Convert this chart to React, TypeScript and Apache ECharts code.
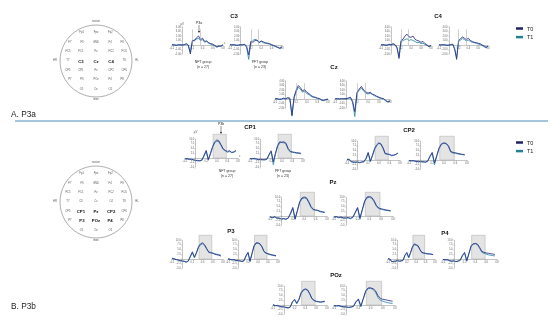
import React, { useEffect, useRef } from "react";
import * as echarts from "echarts";

// ---------- data ----------
const TIMES = [-0.2, -0.16, -0.12, -0.08, -0.04, 0, 0.04, 0.08, 0.12, 0.16, 0.2, 0.24, 0.28, 0.32, 0.36, 0.4, 0.44, 0.48, 0.52, 0.56, 0.6, 0.64, 0.68, 0.72, 0.76, 0.8];

const X_TICKS = [-0.2, 0, 0.2, 0.4, 0.6, 0.8];
const P3A_Y_TICKS = [-2, -1, 0, 1, 2, 3, 4];
const P3B_Y_TICKS = [-5, -2.5, 0, 2.5, 5, 7.5, 10];
const P3A_WINDOW = [0.2, 0.35];
const P3B_WINDOW = [0.33, 0.58];

const GROUPS = ["NFT group", "PFT group"];
const GROUP_N = ["(n = 27)", "(n = 23)"];
const LEGEND_NAMES = ["T0", "T1"];

// P3a (µV)
const c3NftT0 = [0.1, 0.0, -0.1, 0.1, 0.0, 0.0, 0.1, 0.3, 0.0, -2.0, 1.0, 0.9, 1.6, 2.0, 1.2, 1.5, 0.8, 0.9, 0.5, 0.3, 0.2, -0.1, -0.4, -0.2, -0.3, 0.1];
const c3NftT1 = [0.0, 0.1, 0.0, -0.1, 0.1, 0.0, 0.0, 0.2, -0.2, -1.6, 0.8, 1.2, 1.3, 1.5, 1.0, 1.2, 0.6, 0.8, 0.4, 0.2, 0.0, -0.2, -0.5, -0.3, -0.2, 0.0];
const c3PftT0 = [0.1, 0.0, 0.1, -0.1, 0.0, 0.1, 0.0, 0.2, -0.3, -2.2, 0.8, 0.6, 1.0, 1.1, 0.6, 0.9, 0.7, 0.5, 0.4, 0.3, 0.1, -0.1, -0.3, -0.5, -0.7, -0.4];
const c3PftT1 = [0.0, 0.1, 0.0, 0.0, -0.1, 0.0, 0.1, 0.1, -0.6, -3.2, 0.5, 1.0, 1.3, 1.0, 0.5, 0.8, 0.5, 0.4, 0.3, 0.2, 0.0, -0.2, -0.4, -0.6, -0.8, -0.5];
const c4NftT0 = [0.0, 0.1, 0.0, -0.1, 0.2, 0.0, 0.3, 0.1, -0.5, -3.0, 1.0, 1.3, 2.0, 2.4, 1.8, 1.7, 2.0, 1.3, 1.0, 0.9, 0.6, 0.8, 0.3, 0.0, -0.3, -0.1];
const c4NftT1 = [0.1, 0.0, 0.0, 0.0, 0.1, 0.1, 0.2, 0.0, -0.7, -2.6, 0.7, 1.0, 1.2, 1.4, 1.0, 1.2, 1.0, 0.8, 0.5, 0.6, 0.3, 0.4, 0.1, -0.1, -0.4, -0.2];
const c4PftT0 = [0.1, 0.0, 0.1, 0.0, -0.1, 0.0, 0.1, 0.2, -0.8, -3.2, 1.0, 1.4, 1.8, 1.5, 1.2, 1.5, 1.0, 0.8, 0.6, 0.5, 0.4, 0.3, 0.0, -0.2, -0.5, -0.3];
const c4PftT1 = [0.0, 0.0, 0.0, 0.1, 0.0, -0.1, 0.0, 0.1, -1.0, -2.8, 0.8, 1.1, 1.5, 1.2, 0.9, 1.1, 0.8, 0.6, 0.5, 0.4, 0.2, 0.1, -0.1, -0.4, -0.6, -0.3];
const czNftT0 = [0.0, 0.1, -0.1, 0.0, 0.2, 0.0, 0.3, 0.2, -3.6, 0.5, 2.0, 3.0, 2.5, 1.8, 2.1, 1.5, 1.2, 0.8, 0.5, 0.4, 0.2, 0.1, -0.2, -0.3, -0.1, 0.0];
const czNftT1 = [0.1, 0.0, 0.0, -0.1, 0.1, 0.1, 0.2, 0.0, -3.8, 0.2, 1.6, 2.6, 2.2, 1.5, 1.8, 1.2, 1.0, 0.6, 0.4, 0.3, 0.1, 0.0, -0.3, -0.4, -0.2, -0.1];
const czPftT0 = [0.0, 0.1, 0.0, 0.1, 0.0, 0.1, 0.2, 0.4, -0.5, -2.8, 1.5, 2.2, 2.8, 2.0, 1.6, 1.3, 1.5, 1.1, 0.9, 0.6, 0.4, 0.2, 0.1, -0.3, -0.6, -0.4];
const czPftT1 = [0.1, 0.0, 0.0, 0.0, 0.1, 0.0, 0.1, 0.3, -0.8, -3.9, 1.2, 2.0, 2.4, 1.8, 1.3, 1.1, 1.3, 1.0, 0.7, 0.5, 0.3, 0.1, 0.0, -0.4, -0.7, -0.5];

// P3b (µV)
const cp1NftT0 = [-0.5, -0.3, -0.8, -0.6, -1.0, -1.2, -1.5, -1.4, -1.0, 1.5, 4.0, -0.8, 2.5, 6.0, 8.5, 9.5, 9.0, 7.0, 4.8, 4.0, 3.5, 3.8, 3.0, 3.2, 4.0, null];
const cp1NftT1 = [-0.2, -0.6, -0.4, -0.9, -0.8, -1.5, -1.2, -1.6, -1.2, 1.0, 3.5, -1.2, 2.0, 5.5, 8.0, 8.8, 8.5, 6.5, 4.5, 3.8, 3.0, 3.5, 2.8, 3.0, 3.6, null];
const cp1PftT0 = [-0.3, -0.5, -0.2, -0.6, -0.8, -0.7, -1.0, -0.8, -0.5, 2.0, 3.8, -2.0, 2.5, 6.5, 8.5, 8.3, 8.5, 7.8, 5.0, 3.5, 3.2, 3.0, 2.8, 2.7, 2.5, null];
const cp1PftT1 = [-0.5, -0.2, -0.6, -0.4, -0.9, -1.0, -0.8, -1.1, -0.7, 1.5, 3.2, -3.5, 2.0, 6.0, 8.0, 8.2, 8.0, 7.2, 4.5, 3.2, 3.0, 2.8, 2.5, 2.4, 2.2, null];
const cp2NftT0 = [0.5, 0.2, -0.8, -1.0, -1.2, -1.0, -1.3, -1.0, -0.8, 1.0, 4.0, -0.5, 2.5, 6.0, 8.0, 9.0, 8.5, 6.5, 3.5, 3.2, 3.0, 2.5, 2.6, 3.0, 3.5, null];
const cp2NftT1 = [0.2, 0.5, -1.0, -1.3, -1.0, -1.2, -1.5, -1.2, -1.0, 0.5, 3.5, -1.0, 2.0, 5.5, 7.5, 8.8, 8.2, 6.0, 3.2, 3.0, 2.8, 2.2, 2.4, 2.8, 3.8, null];
const cp2PftT0 = [-0.2, -0.5, -0.3, -0.8, -0.6, -1.0, -0.8, -1.2, -0.6, 2.0, 4.0, -1.5, 2.5, 6.5, 8.5, 9.0, 8.8, 7.5, 4.5, 4.0, 3.8, 3.5, 3.2, 3.0, 2.8, null];
const cp2PftT1 = [-0.5, -0.3, -0.6, -0.5, -1.0, -0.8, -1.2, -1.0, -0.9, 1.5, 3.5, -2.5, 2.0, 6.0, 8.2, 8.8, 8.5, 7.0, 4.2, 3.6, 3.5, 3.2, 3.0, 2.8, 2.6, null];
const pzNftT0 = [-0.5, -0.8, -0.4, -1.0, -1.2, -1.5, -1.3, -1.8, -1.0, 1.5, 4.5, -1.5, 3.0, 7.5, 9.5, 10.0, 9.6, 7.5, 5.0, 3.5, 3.2, 3.0, 2.5, 2.2, 2.0, null];
const pzNftT1 = [-0.3, -1.0, -0.6, -1.2, -1.0, -1.8, -1.5, -1.6, -1.2, 1.0, 4.0, -1.8, 2.5, 7.0, 9.0, 9.5, 9.2, 7.0, 4.5, 3.2, 3.0, 2.8, 2.2, 2.0, 1.8, null];
const pzPftT0 = [-0.5, -0.3, -0.7, -0.5, -0.9, -1.0, -0.8, -1.2, -0.6, 2.0, 4.5, -1.0, 3.5, 8.0, 10.0, 10.2, 9.8, 8.0, 5.5, 4.2, 3.8, 3.5, 3.2, 3.0, 2.8, null];
const pzPftT1 = [-0.7, -0.5, -0.9, -0.7, -1.1, -1.2, -1.0, -1.4, -0.8, 1.5, 4.0, -1.8, 3.0, 7.5, 9.5, 9.8, 9.3, 7.5, 5.0, 3.8, 3.5, 3.2, 3.0, 2.8, 2.5, null];
const p3NftT0 = [0.3, 0.0, -0.3, -0.5, -0.8, -1.0, -1.2, -1.5, -1.0, 1.5, 3.8, 1.0, 3.5, 6.5, 8.0, 8.5, 7.5, 5.5, 3.5, 3.2, 3.0, 2.5, 2.2, 2.0, 1.5, null];
const p3NftT1 = [0.5, 0.2, -0.2, -0.6, -0.9, -1.2, -1.3, -1.7, -1.2, 1.2, 3.2, 0.6, 3.0, 6.0, 7.5, 8.0, 7.0, 5.2, 3.8, 3.5, 3.2, 2.8, 2.5, 2.3, 2.0, null];
const p3PftT0 = [0.0, -0.2, -0.5, -0.3, -0.7, -0.8, -1.0, -1.2, -0.8, 1.8, 3.5, -1.0, 3.0, 7.0, 8.5, 8.5, 8.0, 6.5, 4.0, 3.2, 2.8, 2.5, 2.2, 2.0, 1.8, null];
const p3PftT1 = [0.2, -0.1, -0.4, -0.5, -0.8, -1.0, -1.1, -1.4, -1.0, 1.5, 3.2, -1.5, 2.6, 6.5, 8.2, 8.3, 7.8, 6.2, 3.8, 3.0, 2.6, 2.2, 2.0, 1.8, 1.5, null];
const p4NftT0 = [0.3, 0.0, -1.5, -1.2, -1.0, -0.8, -1.2, -0.9, -0.6, 2.0, 3.5, 1.0, 3.5, 6.5, 8.0, 7.5, 7.0, 5.0, 3.5, 3.2, 3.0, 2.8, 2.6, 2.5, 2.4, null];
const p4NftT1 = [0.0, -0.3, -1.2, -1.5, -1.3, -1.0, -1.0, -1.2, -0.8, 1.8, 3.0, 0.5, 3.0, 6.0, 7.5, 7.2, 6.6, 4.8, 3.3, 3.0, 2.8, 2.6, 2.8, 2.6, 2.2, null];
const p4PftT0 = [-0.2, -0.5, -0.3, -0.8, -1.2, -0.9, -1.4, -1.0, -0.5, 2.0, 3.5, -0.8, 3.0, 7.0, 8.0, 8.2, 7.8, 6.0, 4.0, 3.5, 3.2, 3.0, 2.8, 2.6, 2.4, null];
const p4PftT1 = [-0.4, -0.3, -0.6, -0.9, -1.0, -1.2, -1.3, -1.2, -0.8, 1.6, 3.0, -1.2, 2.6, 6.5, 7.8, 8.0, 7.5, 5.5, 3.5, 3.0, 2.6, 2.2, 2.0, 1.8, 1.6, null];
const pozNftT0 = [0.0, -0.4, -0.2, -0.6, -0.8, -1.0, -1.2, -1.5, -1.0, 1.8, 3.0, 1.0, 3.0, 6.5, 8.0, 8.5, 8.0, 6.0, 3.5, 2.5, 2.0, 1.8, 1.6, 1.8, 2.0, null];
const pozNftT1 = [0.3, -0.2, -0.5, -0.8, -1.0, -1.1, -1.4, -1.6, -1.2, 1.5, 2.6, 0.6, 2.6, 6.0, 7.6, 8.2, 7.7, 5.8, 3.2, 2.3, 1.8, 1.6, 1.4, 1.6, 1.8, null];
const pozPftT0 = [-0.3, -0.5, -0.2, -0.7, -0.9, -1.0, -1.2, -1.0, -0.6, 1.8, 3.2, -0.5, 3.5, 7.5, 9.0, 9.0, 8.6, 7.5, 5.0, 3.5, 3.0, 2.8, 2.5, 2.2, 2.0, null];
const pozPftT1 = [-0.5, -0.4, -0.6, -0.8, -1.0, -1.2, -1.3, -1.2, -0.8, 1.5, 2.8, -1.0, 3.0, 7.0, 8.6, 8.8, 8.2, 6.8, 4.0, 2.5, 2.0, 1.6, 1.2, 1.0, 0.8, null];

// electrode montage
const ELECTRODE_ROWS = [
  ["Fp1", "Fpz", "Fp2"],
  ["F7", "F3", "GND", "F4", "F8"],
  ["FC5", "FC1", "Fz", "FC2", "FC6"],
  ["T7", "C3", "Cz", "C4", "T8"],
  ["CP5", "CP1", "Pz", "CP2", "CP6"],
  ["P7", "P3", "POz", "P4", "P8"],
  ["O1", "Oz", "O2"],
];
const HIGHLIGHT_A = ["C3", "Cz", "C4"];
const HIGHLIGHT_B = ["CP1", "Pz", "CP2", "P3", "POz", "P4"];

// ---------- styles / layout ----------
const FONT = "'Liberation Sans', Arial, Helvetica, sans-serif";
const T0_COLOR = "#2c2f86";
const T1_COLOR = "#2f88ab";
const T0_LEGEND = "#1e2266";
const T1_LEGEND = "#23808f";
const AXIS_COLOR = "#8a8a8a";

type Panel = {
  title: string; group: number; kind: "a" | "b";
  t0: (number | null)[]; t1: (number | null)[];
  left: number; axisY: number; width: number; first?: boolean;
};

const PANELS: Panel[] = [
  { title: "C3", group: 0, kind: "a", t0: c3NftT0, t1: c3NftT1, left: 172, axisY: 45, width: 51, first: true },
  { title: "C3", group: 1, kind: "a", t0: c3PftT0, t1: c3PftT1, left: 230, axisY: 45, width: 52 },
  { title: "C4", group: 0, kind: "a", t0: c4NftT0, t1: c4NftT1, left: 381, axisY: 45, width: 50 },
  { title: "C4", group: 1, kind: "a", t0: c4PftT0, t1: c4PftT1, left: 439, axisY: 45, width: 49 },
  { title: "Cz", group: 0, kind: "a", t0: czNftT0, t1: czNftT1, left: 275, axisY: 99, width: 53 },
  { title: "Cz", group: 1, kind: "a", t0: czPftT0, t1: czPftT1, left: 335, axisY: 99, width: 55 },
  { title: "CP1", group: 0, kind: "b", t0: cp1NftT0, t1: cp1NftT1, left: 185, axisY: 158, width: 53, first: true },
  { title: "CP1", group: 1, kind: "b", t0: cp1PftT0, t1: cp1PftT1, left: 250, axisY: 158, width: 53 },
  { title: "CP2", group: 0, kind: "b", t0: cp2NftT0, t1: cp2NftT1, left: 347, axisY: 160, width: 53 },
  { title: "CP2", group: 1, kind: "b", t0: cp2PftT0, t1: cp2PftT1, left: 409, axisY: 160, width: 58 },
  { title: "Pz", group: 0, kind: "b", t0: pzNftT0, t1: pzNftT1, left: 270, axisY: 216, width: 57 },
  { title: "Pz", group: 1, kind: "b", t0: pzPftT0, t1: pzPftT1, left: 334, axisY: 216, width: 59 },
  { title: "P3", group: 0, kind: "b", t0: p3NftT0, t1: p3NftT1, left: 172, axisY: 259, width: 51 },
  { title: "P3", group: 1, kind: "b", t0: p3PftT0, t1: p3PftT1, left: 228, axisY: 259, width: 50 },
  { title: "P4", group: 0, kind: "b", t0: p4NftT0, t1: p4NftT1, left: 388, axisY: 259, width: 47 },
  { title: "P4", group: 1, kind: "b", t0: p4PftT0, t1: p4PftT1, left: 443, axisY: 259, width: 54 },
  { title: "POz", group: 0, kind: "b", t0: pozNftT0, t1: pozNftT1, left: 273, axisY: 305, width: 54 },
  { title: "POz", group: 1, kind: "b", t0: pozPftT0, t1: pozPftT1, left: 334, axisY: 305, width: 61 },
];

const TITLES: { text: string; x: number; y: number }[] = [
  { text: "C3", x: 234, y: 16 },
  { text: "C4", x: 438, y: 16 },
  { text: "Cz", x: 334, y: 67 },
  { text: "CP1", x: 250, y: 127 },
  { text: "CP2", x: 409, y: 130 },
  { text: "Pz", x: 333, y: 182 },
  { text: "P3", x: 231, y: 231 },
  { text: "P4", x: 445, y: 233 },
  { text: "POz", x: 336, y: 275 },
];

function txt(x: number, y: number, text: string, size: number, extra: any = {}) {
  return {
    type: "text", x, y, silent: true,
    style: {
      text, fontSize: size, fontFamily: FONT, fill: extra.fill || "#333",
      fontWeight: extra.bold ? "bold" : "normal",
      align: extra.align || "center", verticalAlign: "middle",
    },
  };
}

function head(cx: number, cy: number, r: number, highlight: string[]) {
  const els: any[] = [];
  els.push({ type: "circle", silent: true, shape: { cx, cy, r }, style: { fill: "none", stroke: "#777", lineWidth: 0.6 } });
  const rowStep = r * 0.26;
  const five = [-0.78, -0.42, 0, 0.42, 0.78];
  const three = [-0.4, 0, 0.4];
  ELECTRODE_ROWS.forEach((row, ri) => {
    const offs = row.length === 5 ? five : three;
    const shrink = ri === 1 || ri === 5 ? 0.93 : 1;
    row.forEach((name, ci) => {
      const hl = highlight.includes(name);
      els.push(txt(cx + offs[ci] * r * shrink, cy + (ri - 3) * rowStep, name, hl ? 4.3 : 2.7, { bold: hl, fill: hl ? "#111" : "#555" }));
    });
  });
  els.push(txt(cx, cy - r - 3, "nasion", 2.7, { fill: "#555" }));
  els.push(txt(cx, cy + r + 3, "inion", 2.7, { fill: "#555" }));
  els.push(txt(cx - r - 5, cy, "HR", 2.7, { fill: "#555" }));
  els.push(txt(cx + r + 5, cy, "HL", 2.7, { fill: "#555" }));
  return els;
}

function arrow(x: number, y1: number, y2: number) {
  return [
    { type: "line", silent: true, shape: { x1: x, y1, x2: x, y2: y2 - 1.5 }, style: { stroke: "#222", lineWidth: 0.5 } },
    { type: "polygon", silent: true, shape: { points: [[x - 1.1, y2 - 2], [x + 1.1, y2 - 2], [x, y2]] }, style: { fill: "#222" } },
  ];
}

function buildOption() {
  const grid: any[] = [];
  const xAxis: any[] = [];
  const yAxis: any[] = [];
  const series: any[] = [];

  PANELS.forEach((p, i) => {
    const isA = p.kind === "a";
    const ppu = isA ? 4.5 : 1.9;
    const ticks = isA ? P3A_Y_TICKS : P3B_Y_TICKS;
    const ymin = ticks[0];
    const ymax = isA ? ticks[ticks.length - 1] : 12.5;
    const yint = isA ? 1 : 2.5;
    const xmin = X_TICKS[0];
    const xmax = X_TICKS[X_TICKS.length - 1];
    grid.push({ left: p.left, top: p.axisY - ymax * ppu, width: p.width, height: (ymax - ymin) * ppu, outerBoundsMode: "none", containLabel: false });
    // axes are shifted onto the zero lines explicitly
    const xOffset = -(0 - ymin) * ppu;
    const yOffset = -((0 - xmin) / (xmax - xmin)) * p.width;
    xAxis.push({
      type: "value", gridIndex: i, min: xmin, max: xmax, interval: 0.2, position: "bottom", offset: xOffset,
      name: p.first ? "s" : "", nameLocation: "end", nameGap: 1,
      nameTextStyle: { fontSize: 2.6, color: "#555", verticalAlign: "bottom", fontFamily: FONT },
      axisLine: { onZero: false, lineStyle: { color: AXIS_COLOR, width: 0.5 } },
      axisTick: { show: true, length: 1.2, lineStyle: { color: AXIS_COLOR, width: 0.4 } },
      axisLabel: { fontSize: 2.6, color: "#666", margin: 1.5, fontFamily: FONT, formatter: (v: number) => (Math.abs(v) < 1e-9 ? "" : v.toFixed(1)) },
      splitLine: { show: false },
    });
    yAxis.push({
      type: "value", gridIndex: i, min: ymin, max: ymax, interval: yint, position: "left", offset: yOffset,
      name: p.first ? "µV" : "", nameLocation: "end", nameGap: 1.5,
      nameTextStyle: { fontSize: 2.8, color: "#555", fontFamily: FONT },
      axisLine: { show: isA, onZero: false, lineStyle: { color: AXIS_COLOR, width: 0.5 } },
      axisTick: { show: true, length: 1.2, lineStyle: { color: AXIS_COLOR, width: 0.4 }, customValues: ticks },
      axisLabel: {
        fontSize: 2.6, color: "#666", margin: 1.3, fontFamily: FONT, customValues: ticks.filter((t) => t !== 0),
        formatter: (v: number) => (Math.abs(v) < 1e-9 || v > 10.1 ? "" : isA ? v.toFixed(2) : v.toFixed(1)),
      },
      splitLine: { show: false },
    });

    const base = {
      type: "line", xAxisIndex: i, yAxisIndex: i, showSymbol: false, symbol: "none",
      clip: false, silent: true, animation: false, connectNulls: false,
    };
    series.push({
      ...base, name: "T1", z: 3,
      data: TIMES.map((t, k) => [t, p.t1[k]]),
      lineStyle: { width: 0.85, color: T1_COLOR }, itemStyle: { color: T1_COLOR },
      markArea: isA ? undefined : {
        silent: true, z: 1,
        itemStyle: { color: "#e4e4e4", borderColor: "#ababab", borderWidth: 0.5 },
        data: [[{ coord: [P3B_WINDOW[0], 0] }, { coord: [P3B_WINDOW[1], 12.5] }]],
      },
    });
    series.push({
      ...base, name: "T0", z: 4,
      data: TIMES.map((t, k) => [t, p.t0[k]]),
      lineStyle: { width: 0.85, color: T0_COLOR }, itemStyle: { color: T0_COLOR },
      markLine: {
        silent: true, symbol: ["none", "none"], label: { show: false }, animation: false,
        lineStyle: { color: isA ? "#a0a0a0" : AXIS_COLOR, width: 0.5, type: "solid" },
        data: isA
          ? P3A_WINDOW.map((w) => [{ coord: [w, 0] }, { coord: [w, 3.5] }])
          : [[{ coord: [0, ymin] }, { coord: [0, 10] }]],
      },
    });
  });

  const graphic: any[] = [];
  graphic.push(...head(96, 61, 36, HIGHLIGHT_A));
  graphic.push(...head(96, 202, 36, HIGHLIGHT_B));
  graphic.push(txt(11, 114, "A. P3a", 8.3, { align: "left", fill: "#222" }));
  graphic.push(txt(11, 305.5, "B. P3b", 8.3, { align: "left", fill: "#222" }));
  graphic.push({ type: "line", silent: true, shape: { x1: 15, y1: 121, x2: 548, y2: 121 }, style: { stroke: "#4b8db8", lineWidth: 1 } });
  TITLES.forEach((t) => graphic.push(txt(t.x, t.y, t.text, 6, { bold: true, fill: "#111" })));
  // group labels under first-row plots
  const groupPos = [
    { x: 203, y: 62 }, { x: 260, y: 62 },
    { x: 227, y: 171 }, { x: 283, y: 171 },
  ];
  groupPos.forEach((g, k) => {
    graphic.push(txt(g.x, g.y, GROUPS[k % 2], 3.5, { fill: "#333" }));
    graphic.push(txt(g.x, g.y + 5, GROUP_N[k % 2], 3.5, { fill: "#333" }));
  });
  graphic.push(txt(199, 23, "P3a", 3.4, { fill: "#222" }));
  graphic.push(...arrow(199, 25, 33));
  graphic.push(txt(221, 124, "P3b", 3.4, { fill: "#222" }));
  graphic.push(...arrow(221, 126, 134));

  const legendBase = {
    orient: "vertical", icon: "rect", itemWidth: 7, itemHeight: 2.5, itemGap: 2.6,
    selectedMode: false, padding: 0,
    textStyle: { fontSize: 5.5, color: "#222", fontFamily: FONT, padding: [0, 0, 0, -1] },
    data: [
      { name: LEGEND_NAMES[0], itemStyle: { color: T0_LEGEND } },
      { name: LEGEND_NAMES[1], itemStyle: { color: T1_LEGEND } },
    ],
  };

  return {
    animation: false,
    backgroundColor: "#ffffff",
    textStyle: { fontFamily: FONT },
    grid, xAxis, yAxis, series, graphic,
    legend: [
      { ...legendBase, left: 516, top: 25.5 },
      { ...legendBase, left: 516, top: 139.5 },
    ],
  };
}

export default function App() {
  const ref = useRef<HTMLDivElement>(null);
  useEffect(() => {
    if (!ref.current) return;
    const chart = echarts.init(ref.current, null, { renderer: "svg" });
    chart.setOption(buildOption() as any);
    return () => chart.dispose();
  }, []);
  return (
    <div
      ref={ref}
      style={{ position: "absolute", left: 0, top: 0, width: 554, height: 321, willChange: "transform" }}
    />
  );
}
